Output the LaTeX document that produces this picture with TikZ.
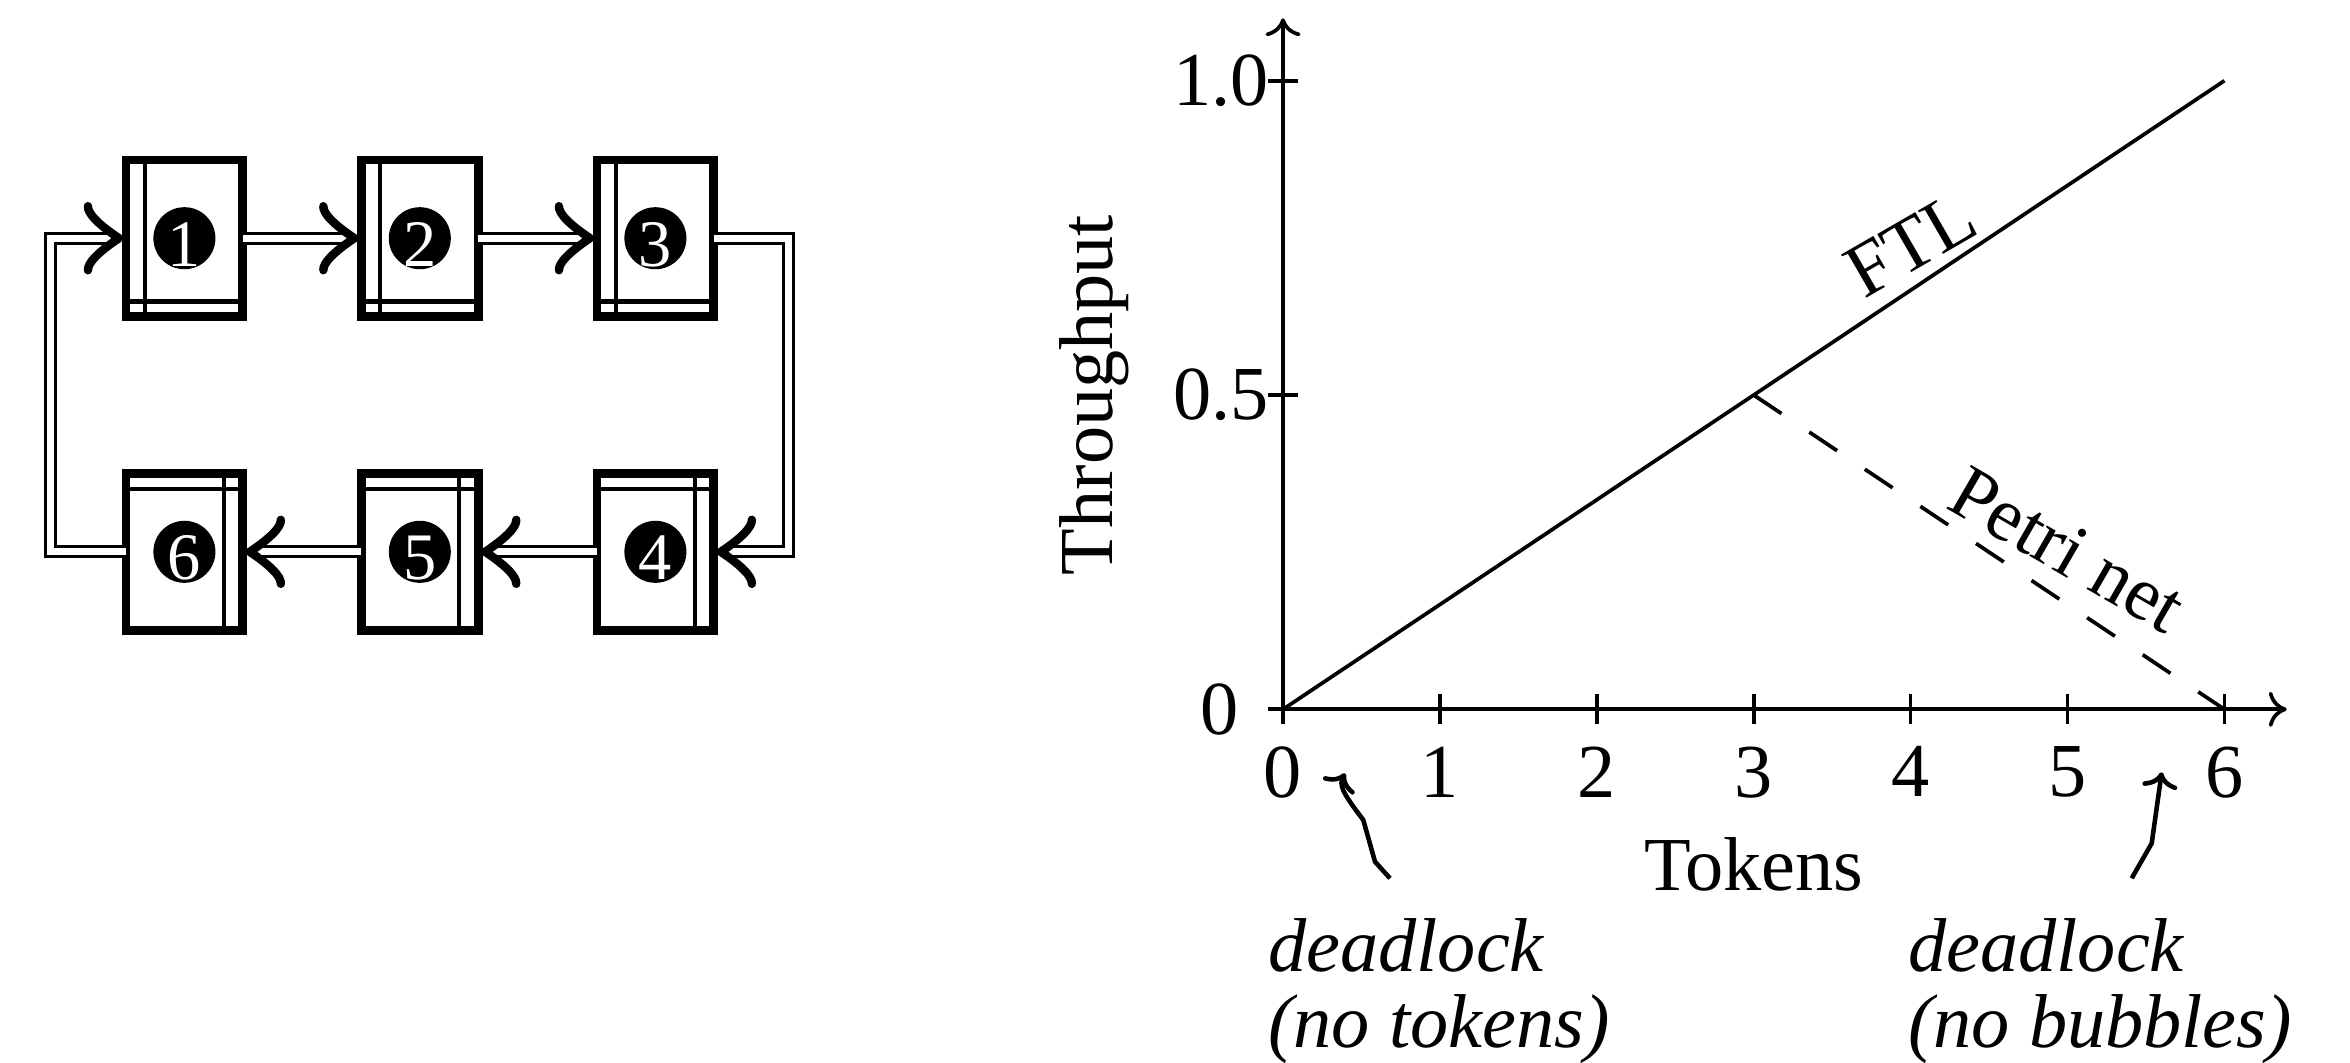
\documentclass[tikz,border=0pt]{standalone}
\usepackage{fontspec}
\setmainfont{Liberation Serif}
\usetikzlibrary{arrows.meta}

% white digit set a little low inside its black disc
\newcommand\discdigit[1]{\raisebox{-0.06cm}[\height][0pt]{#1}}

\begin{document}
\begin{tikzpicture}[x=0.01cm, y=-0.01cm,
  every node/.style={inner sep=0pt, outer sep=0pt},
  lbl/.style={font=\fontsize{21.7}{21.4}\selectfont},
  note/.style={font=\fontsize{21.7}{21.4}\selectfont\itshape, align=left},
  stagebox/.style={draw, line width=2.5pt,
    minimum width=1.168cm, minimum height=1.565cm,
    text=white, font=\fontsize{18.9}{20}\selectfont},
  toprowbox/.style={stagebox, path picture={
    \fill (path picture bounding box.center) circle[radius=0.31cm];
    \draw[line width=1.14pt]
      ([xshift=0.19cm]path picture bounding box.south west) --
      ([xshift=0.19cm]path picture bounding box.north west);
    \draw[line width=1.14pt]
      ([yshift=0.15cm]path picture bounding box.south west) --
      ([yshift=0.15cm]path picture bounding box.south east);}},
  botrowbox/.style={stagebox, path picture={
    \fill (path picture bounding box.center) circle[radius=0.31cm];
    \draw[line width=1.14pt]
      ([xshift=-0.19cm]path picture bounding box.south east) --
      ([xshift=-0.19cm]path picture bounding box.north east);
    \draw[line width=1.14pt]
      ([yshift=-0.15cm]path picture bounding box.north west) --
      ([yshift=-0.15cm]path picture bounding box.north east);}},
  link/.style={draw=black, double=white, line width=0.95pt,
    double distance=1.9pt, shorten >=0.11cm},
  headat/.style={pos=1, sloped, allow upside down},
  bighead/.pic={
    \draw[line width=2.4pt, line cap=round, line join=round]
      (-38,-32) .. controls (-38.5,-25) and (-28,-14) .. (-7,0)
      .. controls (-28,14) and (-38.5,25) .. (-38,32);},
  axis/.style={line width=1.05pt},
  axtip/.style={-{Computer Modern Rightarrow[length=5.1pt,width=10pt]}},
  squig/.style={line width=1.3pt,
    -{Computer Modern Rightarrow[length=4.5pt,width=10pt]}},
]
\useasboundingbox (0,0) rectangle (2350,1063);

% ring of six stages
\node[toprowbox] (b1) at (184.4,238.2) {\discdigit{1}};
\node[toprowbox] (b2) at (419.8,238.2) {\discdigit{2}};
\node[toprowbox] (b3) at (655.4,238.2) {\discdigit{3}};
\node[botrowbox] (b4) at (655.4,551.8) {\discdigit{4}};
\node[botrowbox] (b5) at (419.8,551.8) {\discdigit{5}};
\node[botrowbox] (b6) at (184.4,551.8) {\discdigit{6}};

\draw[link] (b1.east) -- (b2.west);
\path (b1.east) -- (b2.west) pic[headat]{bighead};
\draw[link] (b2.east) -- (b3.west);
\path (b2.east) -- (b3.west) pic[headat]{bighead};
\draw[link] (b3.east) -- ++(74.5,0) |- (b4.east);
\path (b3.east) -- ++(74.5,0) |- (b4.east) pic[headat]{bighead};
\draw[link] (b4.west) -- (b5.east);
\path (b4.west) -- (b5.east) pic[headat]{bighead};
\draw[link] (b5.west) -- (b6.east);
\path (b5.west) -- (b6.east) pic[headat]{bighead};
\draw[link] (b6.west) -- ++(-75.5,0) |- (b1.west);
\path (b6.west) -- ++(-75.5,0) |- (b1.west) pic[headat]{bighead};

% throughput plot
\coordinate (O) at (1283,709.3);
\draw[axis, axtip] (1268,709.3) -- (2286.7,709.3);
\draw[axis, axtip] (1283,724.3) -- (1283,18.3);
\foreach \i in {1,...,6}
  \draw[axis] ({1283+156.9*\i},694.3) -- ({1283+156.9*\i},724.3);
\draw[axis] (1268,395) -- (1298,395);
\draw[axis] (1268,80.7) -- (1298,80.7);

\draw[axis] (O) -- (2224.4,80.7);
\draw[axis, dash pattern=on 9.5pt off 9.5pt] (1753.7,395) -- (2224.4,709.3);

\foreach \i in {0,...,6}
  \node[lbl, anchor=north] (xt\i) at ({1283+156.9*\i},746.7) {\i};
\node[lbl, anchor=east] (y10) at (1268.5,80.7) {1.0};
\node[lbl, anchor=east] (y05) at (1268.5,395) {0.5};
\node[lbl, anchor=east] (y00) at (1238.3,709.3) {0};

\node[lbl, rotate=90, anchor=base] (ylab) at (1112.7,395) {Throughput};
\node[lbl, anchor=base] (xlab) at (1753.7,890) {Tokens};
\node[lbl, rotate=30] (ftl) at (1911,244) {FTL};
\node[lbl, rotate=-30, anchor=base west] (petri) at (1944,507) {Petri net};

\node[note, anchor=north west] (dl1) at (1268.3,919) {deadlock\\(no tokens)};
\node[note, anchor=north west] (dl2) at (1908.3,919) {deadlock\\(no bubbles)};

\coordinate (s1) at (1390,878.3);
\coordinate (t1) at (1345,773.3);
\coordinate (s2) at (2131.7,878.3);
\coordinate (t2) at (2161.7,772.3);
\draw[squig] (s1) -- (1375,861.7) -- (1363.3,820)
  .. controls (1342,792) and (1339,785) .. (t1);
\draw[squig] (s2) -- (2151.7,843.3) -- (t2);
\end{tikzpicture}
\end{document}
